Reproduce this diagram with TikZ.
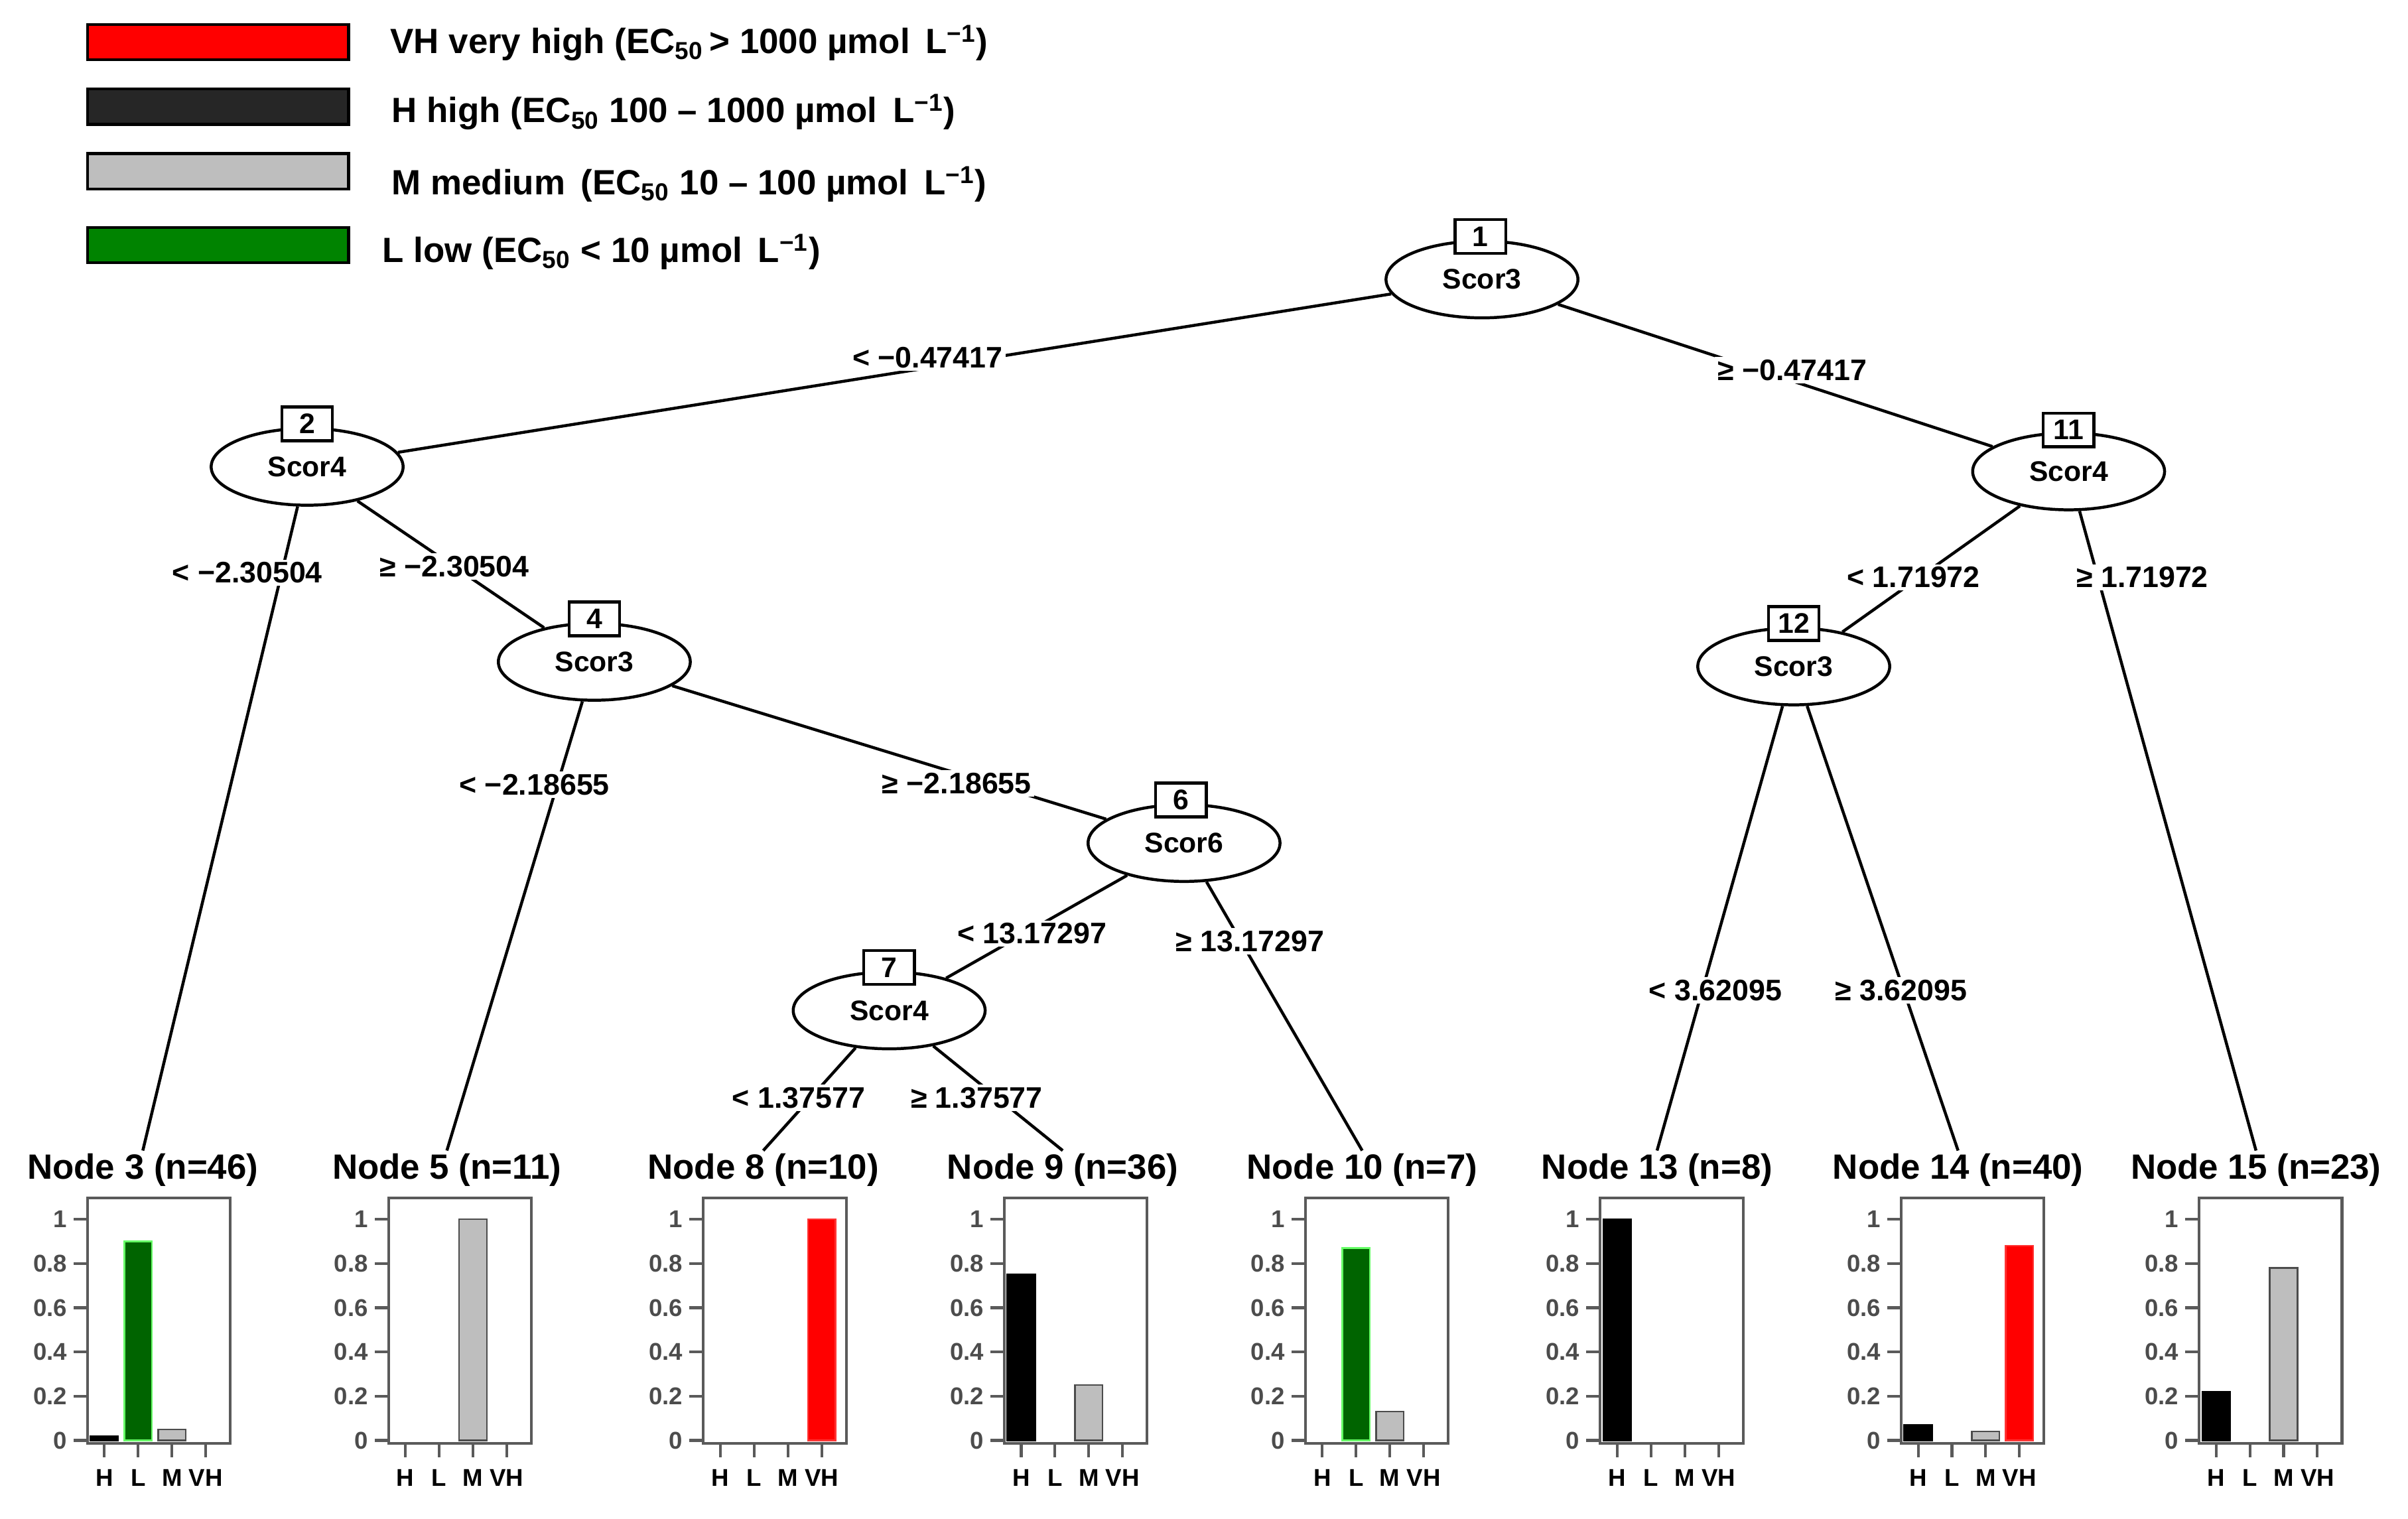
\documentclass[tikz,border=0pt]{standalone}
\usepackage{fontspec}
\setmainfont{Liberation Sans}
\usetikzlibrary{shapes.geometric}
\definecolor{vhred}{RGB}{255,0,0}
\definecolor{lgreen}{RGB}{0,100,0}
\definecolor{mgray}{RGB}{190,190,190}
\definecolor{axgray}{RGB}{90,90,90}
\tikzset{
  split/.style={ellipse,draw,line width=1.1pt,minimum width=2.5cm,minimum height=1.0cm,inner sep=0pt,font=\bfseries\fontsize{10.5}{12}\selectfont},
  num/.style={draw,fill=white,line width=1.1pt,minimum width=0.66cm,minimum height=0.44cm,inner sep=0pt,font=\bfseries\fontsize{10.5}{12}\selectfont},
  cut/.style={fill=white,inner sep=1pt,font=\bfseries\fontsize{11}{12}\selectfont},
  edge/.style={line width=1.1pt},
  title/.style={font=\bfseries\fontsize{13}{14}\selectfont,inner sep=1pt},
  legtext/.style={anchor=west,font=\bfseries\fontsize{13}{15}\selectfont},
  tick/.style={axgray,line width=1pt},
}
\newcommand{\ecf}{EC\textsubscript{50}}
% one bar, drawn only if its value is not zero
\newcommand{\onebar}[4]{\ifdim#2pt>0pt \draw[#3,line width=0.6pt] (#1,938) rectangle ++(18,-144*#2);\fi}
% one leaf panel: box left x, H, L, M, VH
\newcommand{\leafbars}[5]{%
  \draw[axgray,line width=1pt] (#1,780) rectangle ++(93,160);
  \foreach \v in {0,0.2,0.4,0.6,0.8,1}
    \draw[tick] (#1,938-144*\v) -- ++(-9,0) node[left,black!70,font=\bfseries\fontsize{9}{10}\selectfont,inner sep=2pt] {\v};
  \foreach \c/\k in {0/H,1/L,2/M,3/VH}
    \draw[tick] (#1+11+22*\c,940) -- ++(0,9) node[below=4pt,black,font=\bfseries\fontsize{9}{10}\selectfont,inner sep=0pt] {\k};
  \onebar{#1+2}{#2}{fill=black}{}
  \onebar{#1+24}{#3}{fill=lgreen,draw=green!60}{}
  \onebar{#1+46}{#4}{fill=mgray,draw=black!70}{}
  \onebar{#1+68}{#5}{fill=vhred,draw=red!80}{}
}
\begin{document}
\begin{tikzpicture}[x=0.02cm,y=-0.02cm]
  \useasboundingbox (0,0) rectangle (1568,989);
  % legend
  \draw[fill=vhred,line width=1pt] (57,16) rectangle (227,39);
  \draw[fill=black!85,line width=1pt] (57,58) rectangle (227,81);
  \draw[fill=mgray,line width=1pt] (57,100) rectangle (227,123);
  \draw[fill=lgreen!80!green,line width=1pt] (57,148) rectangle (227,171);
  \node[legtext] at (248,28) {VH very high (\ecf\,> 1000 µmol\, L\textsuperscript{−1})};
  \node[legtext] at (249,73) {H high (\ecf\ 100 – 1000 µmol\, L\textsuperscript{−1})};
  \node[legtext] at (249,120) {M medium\, (\ecf\ 10 – 100 µmol\, L\textsuperscript{−1})};
  \node[legtext] at (243,164) {L low (\ecf\ < 10 µmol\, L\textsuperscript{−1})};
  % inner nodes
  \node[split] (n1) at (965,182) {Scor3};
  \node[split] (n2) at (200,304) {Scor4};
  \node[split] (n4) at (387,431) {Scor3};
  \node[split] (n6) at (771,549) {Scor6};
  \node[split] (n7) at (579,658) {Scor4};
  \node[split] (n11) at (1347,307) {Scor4};
  \node[split] (n12) at (1168,434) {Scor3};
  % leaf titles
  \node[title] (l3) at (93,762) {Node 3 (n=46)};
  \node[title] (l5) at (291,762) {Node 5 (n=11)};
  \node[title] (l8) at (497,762) {Node 8 (n=10)};
  \node[title] (l9) at (692,762) {Node 9 (n=36)};
  \node[title] (l10) at (887,762) {Node 10 (n=7)};
  \node[title] (l13) at (1079,762) {Node 13 (n=8)};
  \node[title] (l14) at (1275,762) {Node 14 (n=40)};
  \node[title] (l15) at (1469,762) {Node 15 (n=23)};
  % edges
  \draw[edge] (n1) -- (n2);
  \draw[edge] (n1) -- (n11);
  \draw[edge] (n2) -- (l3.north);
  \draw[edge] (n2) -- (n4);
  \draw[edge] (n4) -- (l5.north);
  \draw[edge] (n4) -- (n6);
  \draw[edge] (n6) -- (n7);
  \draw[edge] (n6) -- (l10.north);
  \draw[edge] (n7) -- (l8.north);
  \draw[edge] (n7) -- (l9.north);
  \draw[edge] (n11) -- (n12);
  \draw[edge] (n11) -- (l15.north);
  \draw[edge] (n12) -- (l13.north);
  \draw[edge] (n12) -- (l14.north);
  % node numbers
  \node[num] at (964,154) {1};
  \node[num] at (200,276) {2};
  \node[num] at (387,403) {4};
  \node[num] at (769,521) {6};
  \node[num] at (579,630) {7};
  \node[num] at (1347,280) {11};
  \node[num] at (1168,406) {12};
  % split labels
  \node[cut] at (604,233) {< −0.47417};
  \node[cut] at (1167,241) {≥ −0.47417};
  \node[cut] at (161,373) {< −2.30504};
  \node[cut] at (296,369) {≥ −2.30504};
  \node[cut] at (348,511) {< −2.18655};
  \node[cut] at (623,510) {≥ −2.18655};
  \node[cut] at (672,608) {< 13.17297};
  \node[cut] at (814,613) {≥ 13.17297};
  \node[cut] at (520,715) {< 1.37577};
  \node[cut] at (636,715) {≥ 1.37577};
  \node[cut] at (1246,376) {< 1.71972};
  \node[cut] at (1395,376) {≥ 1.71972};
  \node[cut] at (1117,645) {< 3.62095};
  \node[cut] at (1238,645) {≥ 3.62095};
  % bar panels
  \leafbars{57}{0.02}{0.9}{0.05}{0}
  \leafbars{253}{0}{0}{1}{0}
  \leafbars{458}{0}{0}{0}{1}
  \leafbars{654}{0.75}{0}{0.25}{0}
  \leafbars{850}{0}{0.87}{0.13}{0}
  \leafbars{1042}{1}{0}{0}{0}
  \leafbars{1238}{0.07}{0}{0.04}{0.88}
  \leafbars{1432}{0.22}{0}{0.78}{0}
\end{tikzpicture}
\end{document}
